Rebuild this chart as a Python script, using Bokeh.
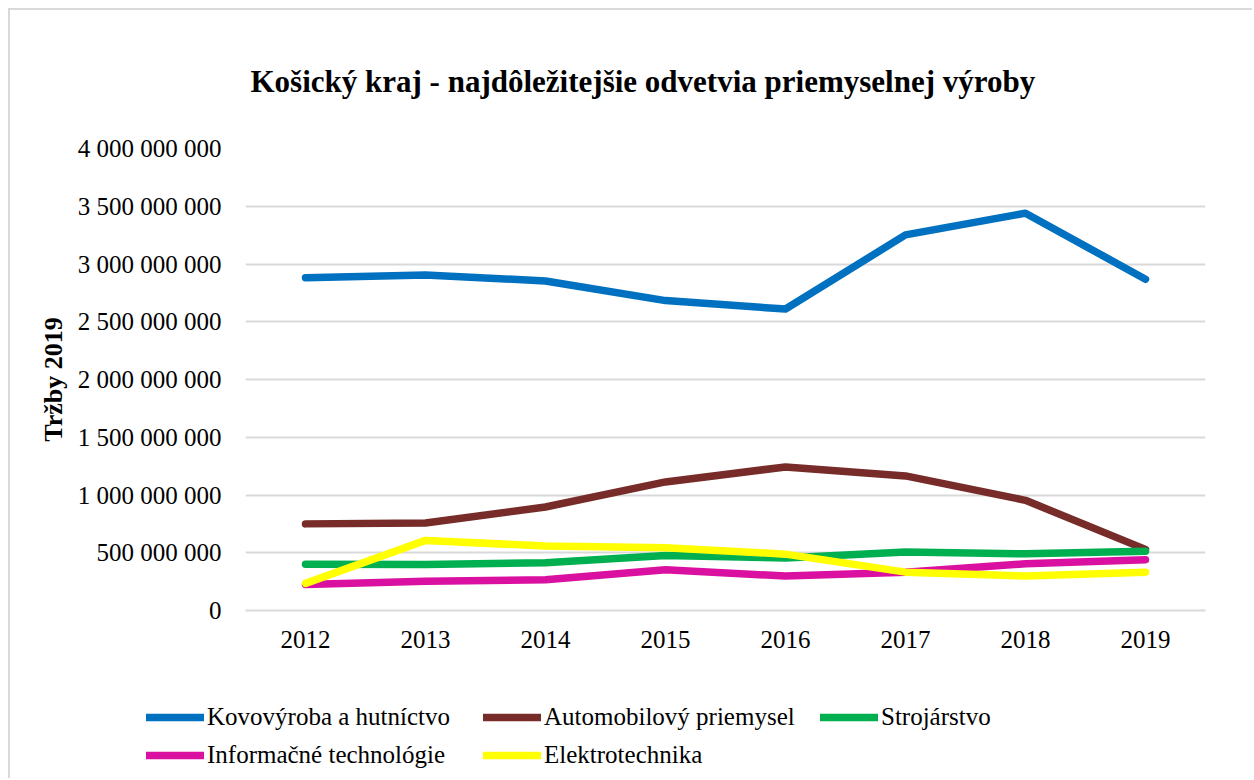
from bokeh.plotting import figure
from bokeh.layouts import column
from bokeh.models import (FactorRange, Range1d, FixedTicker, CustomJSTickFormatter,
                          Legend, LegendItem)
from bokeh.embed import file_html
from bokeh.resources import INLINE

years = ["2012", "2013", "2014", "2015", "2016", "2017", "2018", "2019"]
kovovyroba = [2882000000, 2905000000, 2853000000, 2683000000, 2610000000, 3252000000, 3440000000, 2868000000]
automobilovy = [750000000, 757000000, 896000000, 1113000000, 1243000000, 1165000000, 954000000, 529000000]
strojarstvo = [400000000, 399000000, 414000000, 477000000, 455000000, 506000000, 491000000, 514000000]
informacne = [225000000, 254000000, 266000000, 353000000, 298000000, 332000000, 405000000, 440000000]
elektrotechnika = [235000000, 607000000, 558000000, 544000000, 488000000, 332000000, 298000000, 332000000]

series_names = ["Kovovýroba a hutníctvo", "Automobilový priemysel", "Strojárstvo",
                "Informačné technológie", "Elektrotechnika"]
series_values = [kovovyroba, automobilovy, strojarstvo, informacne, elektrotechnika]
colors = ["#0070C0", "#772C2A", "#00B050", "#DA10A0", "#FFFF00"]
y_ticks = [0, 500000000, 1000000000, 1500000000, 2000000000, 2500000000, 3000000000, 3500000000, 4000000000]

SERIF = "Liberation Serif"
LW = 7.5

# ---- main chart ----
p = figure(width=1242, height=680, x_range=FactorRange(*years), y_range=Range1d(0, 4000000000),
           output_backend="svg", toolbar_location=None,
           min_border_left=235, min_border_right=47, min_border_top=138, min_border_bottom=80)
p.frame_align = False
p.outline_line_color = None
p.background_fill_color = "white"
p.border_fill_color = "white"

p.title.text = "Košický kraj - najdôležitejšie odvetvia priemyselnej výroby"
p.title.text_font = SERIF
p.title.text_font_style = "bold"
p.title.text_font_size = "31px"
p.title.text_color = "#000000"
p.title.align = "left"
p.title.offset = 5
p.title.standoff = 100

for vals, col in zip(series_values, colors):
    p.line(years, vals, line_color=col, line_width=LW, line_cap="round", line_join="round")

p.xgrid.grid_line_color = None
p.ygrid.grid_line_color = "#d9d9d9"
p.ygrid.grid_line_width = 2
p.yaxis.ticker = FixedTicker(ticks=y_ticks)
p.yaxis.formatter = CustomJSTickFormatter(code="return tick.toLocaleString('en-US').replace(/,/g, ' ');")
p.yaxis.axis_line_color = None
p.yaxis.major_tick_line_color = None
p.yaxis.minor_tick_line_color = None
p.yaxis.major_label_standoff = 18
p.yaxis.major_label_text_font = SERIF
p.yaxis.major_label_text_font_size = "25px"
p.yaxis.major_label_text_color = "#000000"
p.yaxis.axis_label = "Tržby 2019"
p.yaxis.axis_label_text_font = SERIF
p.yaxis.axis_label_text_font_style = "bold"
p.yaxis.axis_label_text_font_size = "26px"
p.yaxis.axis_label_text_color = "#000000"
p.yaxis.axis_label_standoff = 7

p.xaxis.axis_line_color = "#d9d9d9"
p.xaxis.axis_line_width = 2
p.xaxis.major_tick_line_color = None
p.xaxis.minor_tick_line_color = None
p.xaxis.major_label_standoff = 14
p.xaxis.major_label_text_font = SERIF
p.xaxis.major_label_text_font_size = "25px"
p.xaxis.major_label_text_color = "#000000"

# ---- legend strip (series drawn out of its view; only the legend shows) ----
q = figure(width=1242, height=88, x_range=FactorRange(*years), y_range=Range1d(-2, -1),
           output_backend="svg", toolbar_location=None,
           x_axis_type=None, y_axis_type=None,
           min_border_left=0, min_border_right=0, min_border_top=0, min_border_bottom=0)
q.frame_align = False
q.outline_line_color = None
q.grid.visible = False
q.background_fill_color = "white"
q.border_fill_color = "white"

items = []
for name, vals, col in zip(series_names, series_values, colors):
    r = q.line(years, vals, line_color=col, line_width=LW, line_cap="round")
    items.append(LegendItem(label=name, renderers=[r]))

legend = Legend(items=items, ncols=3, location=(136, 7), orientation="horizontal",
                glyph_width=58, glyph_height=32, label_standoff=3, label_width=270,
                spacing=6, padding=0, margin=0, border_line_color=None,
                background_fill_alpha=0, label_text_font=SERIF, label_text_font_size="25px",
                label_text_color="#000000", label_text_baseline="middle")
q.add_layout(legend, "center")

layout = column(p, q, spacing=0)
layout.styles = {"margin-left": "8px", "margin-top": "8px",
                 "border-left": "2px solid #d9d9d9", "border-top": "2px solid #d9d9d9"}

open("out.html", "w").write(file_html(layout, INLINE))
